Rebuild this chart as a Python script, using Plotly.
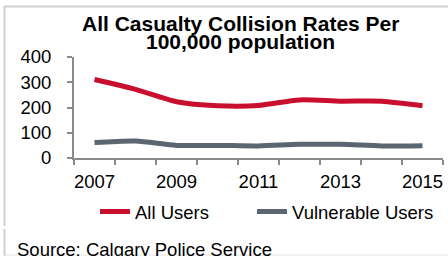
import plotly.graph_objects as go

years = [2007, 2008, 2009, 2010, 2011, 2012, 2013, 2014, 2015]
all_users = [311, 272, 223, 207, 208, 230, 225, 225, 207]
vulnerable_users = [61, 67, 50, 50, 48, 54, 54, 48, 49]
tick_years = [2007, 2009, 2011, 2013, 2015]
boundaries = [2006.5 + i for i in range(10)]
title_lines = ["All Casualty Collision Rates Per", "100,000 population"]
source_text = "Source: Calgary Police Service"

RED = "#c8102e"
GRAY = "#5b6670"
AX = "#8a8a8a"
BORDER = "#cfcfcf"
FONT = "Liberation Sans, Arial, sans-serif"

fig = go.Figure()
fig.add_trace(go.Scatter(x=years, y=all_users, name="All Users", mode="lines", legend="legend",
                         line=dict(color=RED, width=5, shape="spline", smoothing=0.7)))
fig.add_trace(go.Scatter(x=years, y=vulnerable_users, name="Vulnerable Users", mode="lines",
                         legend="legend2",
                         line=dict(color=GRAY, width=5, shape="spline", smoothing=0.7)))

L, R, T, B = 74, 5, 57, 98
W, H = 448, 256
pw, ph = W - L - R, H - T - B
def px(x):
    return (x - L) / pw
def py(y):
    return (H - B - y) / ph

shapes = [
    dict(type="line", xref="paper", yref="paper", x0=px(4), x1=px(448), y0=py(6.5), y1=py(6.5),
         line=dict(color=BORDER, width=2)),
    dict(type="line", xref="paper", yref="paper", x0=px(4.5), x1=px(4.5), y0=py(6), y1=py(226),
         line=dict(color=BORDER, width=2)),
    dict(type="line", xref="paper", yref="paper", x0=px(4.5), x1=px(4.5), y0=py(229), y1=py(256),
         line=dict(color=BORDER, width=2)),
    dict(type="line", xref="paper", yref="paper", x0=px(4), x1=px(448), y0=py(255), y1=py(255),
         line=dict(color="#e4e4e4", width=1)),
]

annotations = [
    dict(text="<b>%s</b>" % title_lines[0], xref="paper", yref="paper", x=px(240), y=py(23.5),
         xanchor="center", yanchor="middle", showarrow=False,
         font=dict(family=FONT, size=21, color="#000000")),
    dict(text="<b>%s</b>" % title_lines[1], xref="paper", yref="paper", x=px(240), y=py(41.5),
         xanchor="center", yanchor="middle", showarrow=False,
         font=dict(family=FONT, size=21, color="#000000")),
    dict(text=source_text, xref="paper", yref="paper",
         x=px(15), y=py(249), xanchor="left", yanchor="middle", showarrow=False,
         font=dict(family=FONT, size=18.5)),
]

legend_common = dict(orientation="h", xref="container", yref="container",
                     xanchor="left", y=1 - 193 / H, yanchor="top",
                     font=dict(family=FONT, size=18.5), itemwidth=30,
                     bgcolor="rgba(0,0,0,0)")

fig.update_layout(
    width=W, height=H,
    margin=dict(l=L, r=R, t=T, b=B, autoexpand=False),
    paper_bgcolor="white", plot_bgcolor="white",
    font=dict(family=FONT, size=18.5, color="#000000"),
    showlegend=True,
    legend=dict(x=95 / W, **legend_common),
    legend2=dict(x=252 / W, **legend_common),
    shapes=shapes,
    annotations=annotations,
)

fig.update_xaxes(range=[2006.5, 2015.5], tickvals=tick_years, ticktext=[str(y) for y in tick_years],
                 ticks="", showgrid=False, zeroline=False, automargin=False,
                 showline=True, linecolor=AX, linewidth=2,
                 minor=dict(tickvals=boundaries, ticks="outside", ticklen=5, tickcolor=AX, tickwidth=1.5,
                            showgrid=False),
                 ticklabelstandoff=6)
fig.update_yaxes(range=[0, 400], dtick=100, ticks="outside", ticklen=5, tickcolor=AX, tickwidth=1.5,
                 automargin=False, ticklabelstandoff=12,
                 showgrid=False, zeroline=False, showline=True, linecolor=AX, linewidth=2)

fig.write_html("out.html", config={"displayModeBar": False},
               post_script="document.body.style.margin='0';")
